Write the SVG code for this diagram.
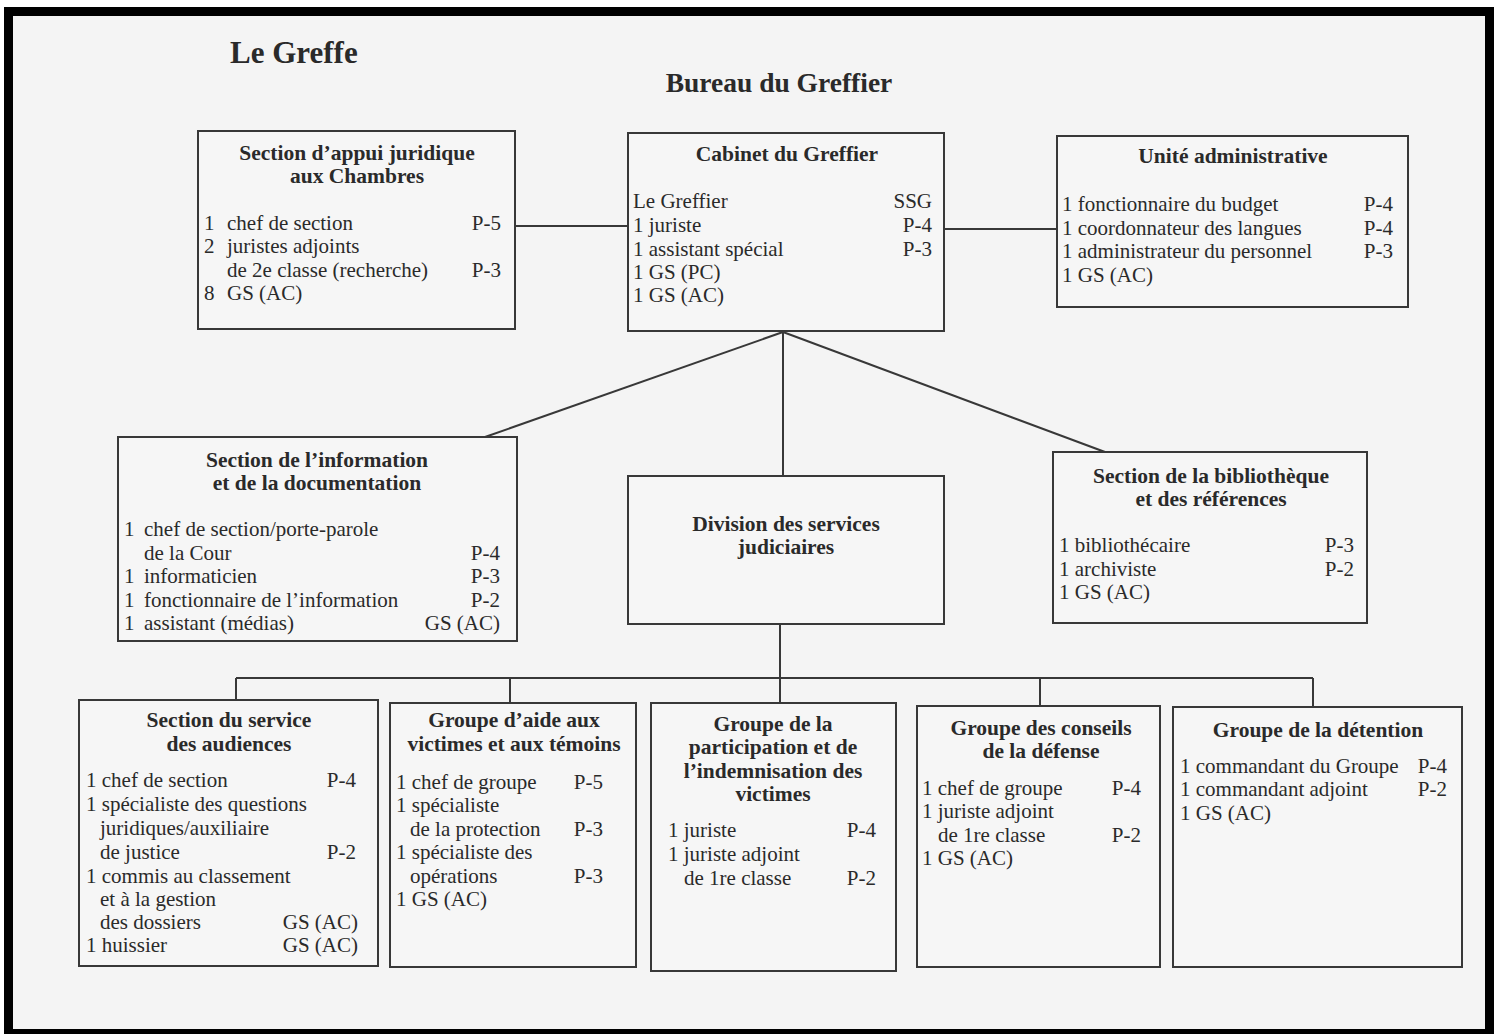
<svg xmlns="http://www.w3.org/2000/svg" width="1498" height="1034" viewBox="0 0 1498 1034">
<style>
.box{fill:#f6f6f6;stroke:#383838;stroke-width:2}
.ln{fill:none;stroke:#383838;stroke-width:2}
text{font-family:"Liberation Serif","Times New Roman",serif;fill:#2a2a2a}
.h{font-size:21.5px;font-weight:bold;text-anchor:middle}
.t{font-size:21px}
.r{text-anchor:end}
</style>
<rect x="0" y="0" width="1498" height="1034" fill="#ffffff"/>
<rect x="4" y="7" width="1490" height="1027" fill="#000000"/>
<rect x="13" y="16" width="1472" height="1013" fill="#f4f4f4"/>

<text x="230" y="63" style="font-size:31px;font-weight:bold">Le Greffe</text>
<text x="779" y="92" style="font-size:27.5px;font-weight:bold;text-anchor:middle">Bureau du Greffier</text>

<g id="connectors">
<line class="ln" x1="515" y1="226" x2="628" y2="226"/>
<line class="ln" x1="944" y1="229" x2="1057" y2="229"/>
<line class="ln" x1="783" y1="332" x2="485" y2="437"/>
<line class="ln" x1="783" y1="332" x2="783" y2="476"/>
<line class="ln" x1="783" y1="332" x2="1105" y2="452"/>
<line class="ln" x1="780" y1="624" x2="780" y2="703"/>
<line class="ln" x1="236" y1="678" x2="1313" y2="678"/>
<line class="ln" x1="236" y1="678" x2="236" y2="700"/>
<line class="ln" x1="510" y1="678" x2="510" y2="703"/>
<line class="ln" x1="1040" y1="678" x2="1040" y2="706"/>
<line class="ln" x1="1313" y1="678" x2="1313" y2="707"/>
</g>

<g id="appui">
<rect class="box" x="198" y="131" width="317" height="198"/>
<text class="h" x="357" y="160">Section d’appui juridique</text>
<text class="h" x="357" y="183">aux Chambres</text>
<text class="t" x="204" y="230">1</text><text class="t" x="227" y="230">chef de section</text><text class="t r" x="501" y="230">P-5</text>
<text class="t" x="204" y="253">2</text><text class="t" x="227" y="253">juristes adjoints</text>
<text class="t" x="227" y="277">de 2e classe (recherche)</text><text class="t r" x="501" y="277">P-3</text>
<text class="t" x="204" y="300">8</text><text class="t" x="227" y="300">GS (AC)</text>
</g>

<g id="cabinet">
<rect class="box" x="628" y="133" width="316" height="198"/>
<text class="h" x="787" y="161">Cabinet du Greffier</text>
<text class="t" x="633" y="208">Le Greffier</text><text class="t r" x="932" y="208">SSG</text>
<text class="t" x="633" y="232">1 juriste</text><text class="t r" x="932" y="232">P-4</text>
<text class="t" x="633" y="256">1 assistant spécial</text><text class="t r" x="932" y="256">P-3</text>
<text class="t" x="633" y="279">1 GS (PC)</text>
<text class="t" x="633" y="302">1 GS (AC)</text>
</g>

<g id="unite">
<rect class="box" x="1057" y="136" width="351" height="171"/>
<text class="h" x="1233" y="163">Unité administrative</text>
<text class="t" x="1062" y="211">1 fonctionnaire du budget</text><text class="t r" x="1393" y="211">P-4</text>
<text class="t" x="1062" y="235">1 coordonnateur des langues</text><text class="t r" x="1393" y="235">P-4</text>
<text class="t" x="1062" y="258">1 administrateur du personnel</text><text class="t r" x="1393" y="258">P-3</text>
<text class="t" x="1062" y="282">1 GS (AC)</text>
</g>

<g id="information">
<rect class="box" x="118" y="437" width="399" height="204"/>
<text class="h" x="317" y="467">Section de l’information</text>
<text class="h" x="317" y="490">et de la documentation</text>
<text class="t" x="124" y="536">1</text><text class="t" x="144" y="536">chef de section/porte-parole</text>
<text class="t" x="144" y="560">de la Cour</text><text class="t r" x="500" y="560">P-4</text>
<text class="t" x="124" y="583">1</text><text class="t" x="144" y="583">informaticien</text><text class="t r" x="500" y="583">P-3</text>
<text class="t" x="124" y="607">1</text><text class="t" x="144" y="607">fonctionnaire de l’information</text><text class="t r" x="500" y="607">P-2</text>
<text class="t" x="124" y="630">1</text><text class="t" x="144" y="630">assistant (médias)</text><text class="t r" x="500" y="630">GS (AC)</text>
</g>

<g id="division">
<rect class="box" x="628" y="476" width="316" height="148"/>
<text class="h" x="786" y="531">Division des services</text>
<text class="h" x="786" y="554">judiciaires</text>
</g>

<g id="bibliotheque">
<rect class="box" x="1053" y="452" width="314" height="171"/>
<text class="h" x="1211" y="483">Section de la bibliothèque</text>
<text class="h" x="1211" y="506">et des références</text>
<text class="t" x="1059" y="552">1 bibliothécaire</text><text class="t r" x="1354" y="552">P-3</text>
<text class="t" x="1059" y="576">1 archiviste</text><text class="t r" x="1354" y="576">P-2</text>
<text class="t" x="1059" y="599">1 GS (AC)</text>
</g>

<g id="audiences">
<rect class="box" x="79" y="700" width="299" height="266"/>
<text class="h" x="229" y="727">Section du service</text>
<text class="h" x="229" y="751">des audiences</text>
<text class="t" x="86" y="787">1 chef de section</text><text class="t r" x="356" y="787">P-4</text>
<text class="t" x="86" y="811">1 spécialiste des questions</text>
<text class="t" x="100" y="835">juridiques/auxiliaire</text>
<text class="t" x="100" y="859">de justice</text><text class="t r" x="356" y="859">P-2</text>
<text class="t" x="86" y="883">1 commis au classement</text>
<text class="t" x="100" y="906">et à la gestion</text>
<text class="t" x="100" y="929">des dossiers</text><text class="t r" x="358" y="929">GS (AC)</text>
<text class="t" x="86" y="952">1 huissier</text><text class="t r" x="358" y="952">GS (AC)</text>
</g>

<g id="victimes-temoins">
<rect class="box" x="390" y="703" width="246" height="264"/>
<text class="h" x="514" y="727">Groupe d’aide aux</text>
<text class="h" x="514" y="751">victimes et aux témoins</text>
<text class="t" x="396" y="789">1 chef de groupe</text><text class="t r" x="603" y="789">P-5</text>
<text class="t" x="396" y="812">1 spécialiste</text>
<text class="t" x="410" y="836">de la protection</text><text class="t r" x="603" y="836">P-3</text>
<text class="t" x="396" y="859">1 spécialiste des</text>
<text class="t" x="410" y="883">opérations</text><text class="t r" x="603" y="883">P-3</text>
<text class="t" x="396" y="906">1 GS (AC)</text>
</g>

<g id="participation">
<rect class="box" x="651" y="703" width="245" height="268"/>
<text class="h" x="773" y="731">Groupe de la</text>
<text class="h" x="773" y="754">participation et de</text>
<text class="h" x="773" y="778">l’indemnisation des</text>
<text class="h" x="773" y="801">victimes</text>
<text class="t" x="668" y="837">1 juriste</text><text class="t r" x="876" y="837">P-4</text>
<text class="t" x="668" y="861">1 juriste adjoint</text>
<text class="t" x="684" y="885">de 1re classe</text><text class="t r" x="876" y="885">P-2</text>
</g>

<g id="defense">
<rect class="box" x="917" y="706" width="243" height="261"/>
<text class="h" x="1041" y="735">Groupe des conseils</text>
<text class="h" x="1041" y="758">de la défense</text>
<text class="t" x="922" y="795">1 chef de groupe</text><text class="t r" x="1141" y="795">P-4</text>
<text class="t" x="922" y="818">1 juriste adjoint</text>
<text class="t" x="938" y="842">de 1re classe</text><text class="t r" x="1141" y="842">P-2</text>
<text class="t" x="922" y="865">1 GS (AC)</text>
</g>

<g id="detention">
<rect class="box" x="1173" y="707" width="289" height="260"/>
<text class="h" x="1318" y="737">Groupe de la détention</text>
<text class="t" x="1180" y="773">1 commandant du Groupe</text><text class="t r" x="1447" y="773">P-4</text>
<text class="t" x="1180" y="796">1 commandant adjoint</text><text class="t r" x="1447" y="796">P-2</text>
<text class="t" x="1180" y="820">1 GS (AC)</text>
</g>
</svg>
